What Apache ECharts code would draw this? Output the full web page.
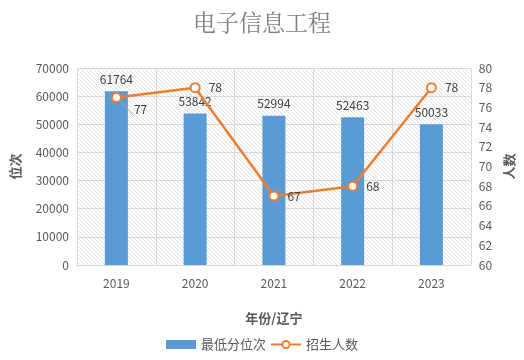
<!DOCTYPE html>
<html><head><meta charset="utf-8">
<script src="https://cdn.jsdelivr.net/npm/echarts@6/dist/echarts.min.js"></script>
<style>html,body{margin:0;padding:0;background:#fff}#c{width:524px;height:360px}</style>
</head><body><div id="c"></div>
<script>
const categories = ['2019','2020','2021','2022','2023'];
const rankValues = [61764, 53842, 52994, 52463, 50033];
const enrollValues = [77, 78, 67, 68, 78];
const leftTicks = [0, 70000, 10000];
const rightTicks = [60, 80, 2];

const tile = document.createElement('canvas');
tile.width = 4; tile.height = 4;
const tc = tile.getContext('2d');
tc.fillStyle = '#ffffff'; tc.fillRect(0,0,4,4);
tc.fillStyle = '#e2e2e2';
for (let i = 0; i < 4; i++) tc.fillRect(i, i, 1, 1);

const chart = echarts.init(document.getElementById('c'), null, {renderer:'canvas'});
const font = '"Noto Sans CJK SC", "Noto Sans", sans-serif';
chart.setOption({
  animation: false,
  textStyle: {fontFamily: font},
  title: {text: '电子信息工程', left: 'center', top: 6,
    textStyle: {fontSize: 23, fontWeight: 'normal', color: '#7f7f7f', fontFamily: '"Noto Serif CJK SC", "Noto Sans CJK SC", serif'}},
  grid: {left: 77, right: 50, top: 68, bottom: 95, show: true,
    backgroundColor: {image: tile, repeat: 'repeat'}, borderWidth: 0},
  legend: {bottom: 4, left: 'center', itemGap: 4, itemWidth: 30, itemHeight: 9,
    textStyle: {fontSize: 13, color: '#595959'},
    data: [{name: '最低分位次', icon: 'rect'}, {name: '招生人数'}]},
  xAxis: {type: 'category', data: categories,
    name: '年份/辽宁', nameLocation: 'middle', nameGap: 47,
    nameTextStyle: {fontSize: 13, fontWeight: 'bold', color: '#595959'},
    axisLine: {lineStyle: {color: '#d9d9d9'}}, axisTick: {show: false},
    axisLabel: {color: '#595959', fontSize: 12, margin: 12},
    splitLine: {show: true, lineStyle: {color: '#d9d9d9'}}},
  yAxis: [
    {type: 'value', min: leftTicks[0], max: leftTicks[1], interval: leftTicks[2],
     name: '位次', nameLocation: 'middle', nameGap: 55, nameRotate: 90,
     nameTextStyle: {fontSize: 13, fontWeight: 'bold', color: '#595959'},
     axisLine: {show: false}, axisTick: {show: false},
     axisLabel: {color: '#595959', fontSize: 12, margin: 8, formatter: v => String(v)},
     splitLine: {lineStyle: {color: '#d9d9d9'}}},
    {type: 'value', min: rightTicks[0], max: rightTicks[1], interval: rightTicks[2],
     name: '人数', nameLocation: 'middle', nameGap: 30, nameRotate: 90,
     nameTextStyle: {fontSize: 13, fontWeight: 'bold', color: '#595959'},
     axisLine: {show: false}, axisTick: {show: false},
     axisLabel: {color: '#595959', fontSize: 12, margin: 8},
     splitLine: {show: false}}
  ],
  series: [
    {name: '最低分位次', type: 'bar', data: rankValues, barWidth: 23,
     itemStyle: {color: '#5b9bd5'},
     label: {show: true, position: 'top', distance: 6, color: '#404040', fontSize: 12}},
    {name: '招生人数', type: 'line', yAxisIndex: 1,
     data: enrollValues.map((v, i) => i === 0 ? {value: v, label: {offset: [4, 12]}, labelLine: {show: true}} : v),
     symbol: 'emptyCircle', symbolSize: 9,
     lineStyle: {color: '#ed7d31', width: 2.5},
     itemStyle: {color: '#ed7d31', borderWidth: 2},
     label: {show: true, position: 'right', distance: 8, color: '#404040', fontSize: 12},
     labelLine: {lineStyle: {color: '#a6a6a6'}}}
  ]
});
</script></body></html>
